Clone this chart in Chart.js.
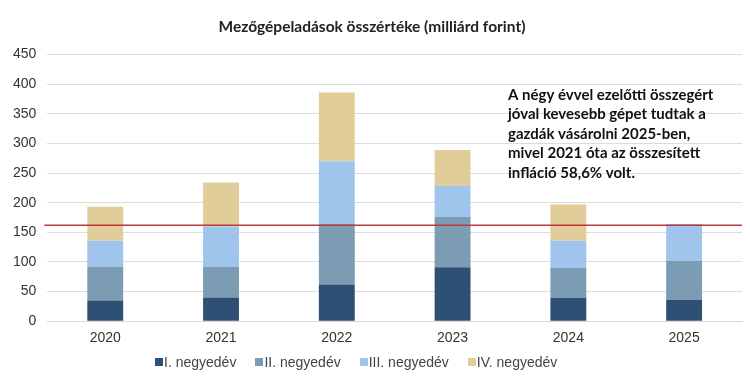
<!DOCTYPE html>
<html>
<head>
<meta charset="utf-8">
<script src="https://cdn.jsdelivr.net/npm/chart.js@4"></script>
<style>
  html, body { margin: 0; padding: 0; background: #fff; }
  #wrap { width: 750px; height: 382px; position: relative; }
  #legend { position: absolute; left: 155px; top: 353px; height: 18px; display: flex; align-items: center;
            font: 14px "Liberation Sans", Arial, sans-serif; color: #444; white-space: nowrap; }
  #legend .item { display: flex; align-items: center; margin-right: 19px; }
  #legend .box { width: 8px; height: 8px; margin-right: 1px; }
</style>
</head>
<body>
<div id="wrap"><canvas id="myChart" width="750" height="382"></canvas><div id="legend"></div></div>
<script>
// adatok (leolvasva)
const years = ['2020', '2021', '2022', '2023', '2024', '2025'];
const q1 = [35, 40, 62, 91, 39, 36];
const q2 = [57, 52, 103, 85, 51, 66];
const q3 = [44, 68, 105, 52, 46, 62];
const q4 = [57, 74, 116, 61, 61, 0];
const seriesNames = ['I. negyedév', 'II. negyedév', 'III. negyedév', 'IV. negyedév'];
const referenceLevel = 162; // piros vonal
const noteLines = [
  'A négy évvel ezelőtti összegért',
  'jóval kevesebb gépet tudtak a',
  'gazdák vásárolni 2025-ben,',
  'mivel 2021 óta az összesített',
  'infláció 58,6% volt.'
];

const colors = ['#2f5075', '#7b9cb2', '#9fc5ec', '#e1cd99'];

const refLine = {
  id: 'refLine',
  afterDatasetsDraw(chart) {
    const { ctx, chartArea, scales } = chart;
    const y = scales.y.getPixelForValue(referenceLevel);
    ctx.save();
    ctx.strokeStyle = '#c0393a';
    ctx.lineWidth = 1.5;
    ctx.beginPath();
    ctx.moveTo(chartArea.left - 3, y);
    ctx.lineTo(chartArea.right, y);
    ctx.stroke();
    // szöveg
    ctx.fillStyle = '#111';
    ctx.font = 'bold 15px Lato, "Open Sans", sans-serif';
    ctx.textBaseline = 'middle';
    noteLines.forEach((t, i) => ctx.fillText(t, 508, 95 + i * 19.5));
    ctx.restore();
  }
};

const ctx = document.getElementById('myChart').getContext('2d');
const myChart = new Chart(ctx, {
    type: 'bar',
    data: {
        labels: years,
        datasets: [q1, q2, q3, q4].map((d, i) => ({
            label: seriesNames[i],
            data: d,
            backgroundColor: colors[i],
            borderWidth: 0
        }))
    },
    options: {
        responsive: false,
        animation: false,
        layout: { padding: { left: 2, right: 8, top: 0, bottom: 34 } },
        datasets: { bar: { categoryPercentage: 1, barPercentage: 0.31 } },
        plugins: {
            title: {
                display: true,
                text: 'Mezőgépeladások összértéke (milliárd forint)',
                color: '#222',
                font: { family: 'Lato, "Open Sans", sans-serif', size: 15.5, weight: 'bold' },
                padding: { top: 18, bottom: 18 }
            },
            legend: { display: false },
            tooltip: { enabled: false }
        },
        scales: {
            x: {
                stacked: true,
                grid: { display: false },
                border: { color: '#d9d9d9' },
                ticks: { color: '#333', font: { family: '"Liberation Sans", Arial, sans-serif', size: 14 }, padding: 1 }
            },
            y: {
                stacked: true,
                min: 0,
                max: 450,
                ticks: { stepSize: 50, color: '#333', font: { family: '"Liberation Sans", Arial, sans-serif', size: 14 }, padding: 11 },
                grid: { color: '#dcdcdc', drawTicks: false },
                border: { display: false }
            }
        }
    },
    plugins: [refLine]
});

// jelmagyarázat a datasetekből
const legendEl = document.getElementById('legend');
myChart.data.datasets.forEach(ds => {
    const item = document.createElement('span');
    item.className = 'item';
    const box = document.createElement('span');
    box.className = 'box';
    box.style.background = ds.backgroundColor;
    item.appendChild(box);
    item.appendChild(document.createTextNode(ds.label));
    legendEl.appendChild(item);
});
</script>
</body>
</html>
